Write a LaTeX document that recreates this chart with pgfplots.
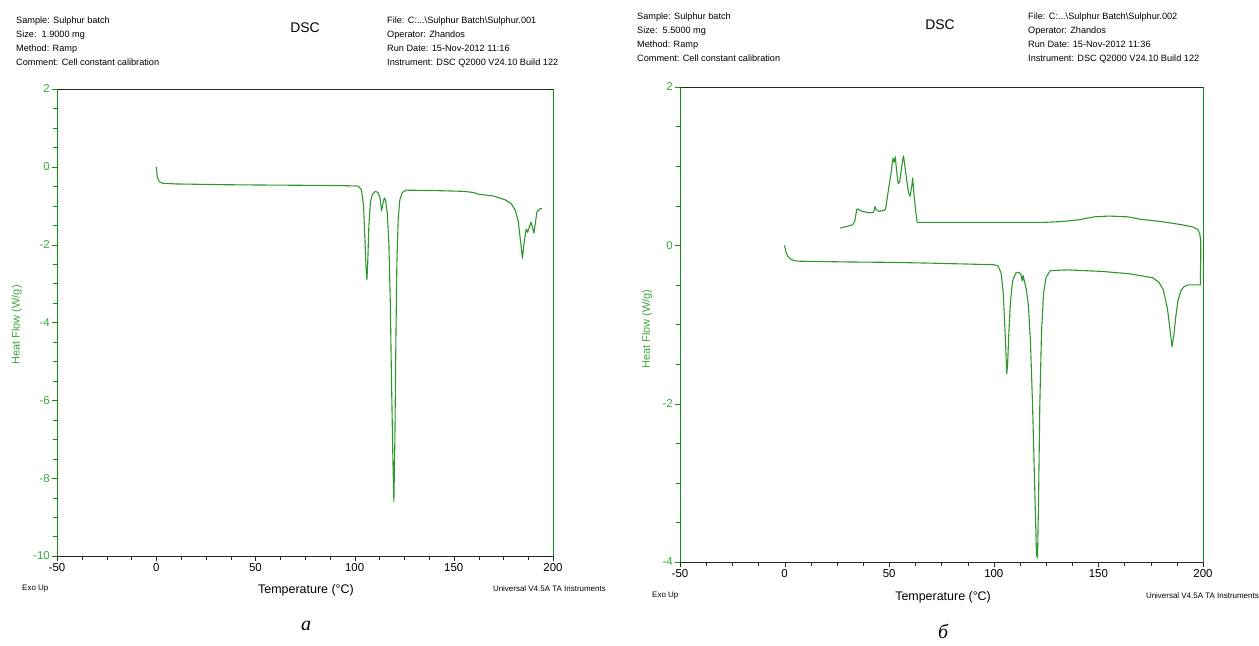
\documentclass[border=0pt]{standalone}
\usepackage{pgfplots}
\pgfplotsset{compat=1.18}
\usepackage{fontspec}
\setmainfont{Liberation Sans}
\newfontfamily\seriffont{Liberation Serif}
\definecolor{axgreen}{RGB}{20,140,20}
\definecolor{curvegreen}{RGB}{45,150,45}
\definecolor{lblgreen}{RGB}{60,165,60}

\pgfplotsset{dscstyle/.style={
  scale only axis, separate axis lines,
  x axis line style={black!85},
  y axis line style={axgreen},
  xmin=-50, xmax=200, xtick={-50,0,50,100,150,200}, minor x tick num=3,
  minor y tick num=3, tick align=outside, xtick pos=bottom, ytick pos=left,
  major tick length=5bp, minor tick length=4bp,
  x tick style={black!85}, y tick style={axgreen},
  xticklabel style={font=\fontsize{11.5}{13}\selectfont, text=black, inner sep=2pt},
  yticklabel style={font=\fontsize{11.5}{13}\selectfont, text=lblgreen, inner sep=2pt},
  /pgf/number format/assume math mode=true,
  xlabel={Temperature (°C)}, ylabel={Heat Flow (W/g)},
  xlabel style={font=\fontsize{12.5}{14}\selectfont, anchor=center},
  ylabel style={font=\fontsize{11}{13}\selectfont, text=lblgreen, anchor=center},
}, dscline/.style={curvegreen, line width=1.1bp, mark=none, line join=round}}

\begin{document}
\begin{tikzpicture}
\useasboundingbox (0,0) rectangle (1259bp,646bp);

% ---------- panel a ----------
\begin{axis}[dscstyle, anchor=south west, at={(57bp,90bp)},
  width=496bp, height=467bp,
  ymin=-10, ymax=2, ytick={-10,-8,-6,-4,-2,0,2},
  xlabel style={at={(axis description cs:0.502,-0.073)}},
  ylabel style={at={(axis description cs:-0.081,0.495)}}]
\addplot[dscline] coordinates {
(0,0) (0.5,-0.25) (1.5,-0.38) (3,-0.42) (10,-0.44) (35,-0.46) (60,-0.47)
(90,-0.48) (100,-0.49) (102,-0.5) (103.5,-0.6) (104.5,-1.0) (105.3,-2.0)
(105.8,-2.6) (106.2,-2.9) (106.6,-2.5) (107.2,-1.5) (108,-0.9) (109,-0.7)
(110.5,-0.63) (111.8,-0.66) (112.8,-0.8) (113.6,-1.13) (114.3,-0.95)
(115,-0.8) (115.6,-0.85) (116.5,-1.2) (117.3,-2.0) (118,-3.5) (118.6,-5.5)
(119.3,-7.5) (119.8,-8.6) (120.3,-7.0) (120.8,-4.5) (121.3,-2.5) (122,-1.3)
(122.8,-0.85) (124,-0.66) (126,-0.6) (140,-0.61) (155,-0.63) (160,-0.66)
(162,-0.70) (170,-0.75) (176,-0.85) (179,-0.95) (181,-1.12) (182.5,-1.4)
(183.6,-1.9) (184.6,-2.35) (185.3,-2.0) (186.5,-1.6) (187.2,-1.68)
(188.9,-1.42) (190.4,-1.7) (191.9,-1.16) (193.4,-1.08) (194.5,-1.07)
};
\end{axis}

% ---------- panel b ----------
\begin{axis}[dscstyle, anchor=south west, at={(680bp,84bp)},
  width=523bp, height=475bp,
  ymin=-4, ymax=2, ytick={-4,-2,0,2},
  xlabel style={at={(axis description cs:0.503,-0.074)}},
  ylabel style={at={(axis description cs:-0.063,0.49)}}]
\addplot[dscline] coordinates {
(0,0) (0.6,-0.08) (1.5,-0.14) (3,-0.18) (6,-0.2) (30,-0.21) (50,-0.215)
(70,-0.225) (100,-0.245) (102,-0.26) (103.5,-0.35) (104.5,-0.6) (105.4,-1.1)
(106.2,-1.62) (106.6,-1.5) (107.2,-1.1) (108,-0.7) (109,-0.45) (110.5,-0.35)
(112,-0.34) (113,-0.37) (113.6,-0.45) (114,-0.38) (114.6,-0.45) (115.5,-0.55)
(116.5,-0.75) (117.5,-1.2) (118.5,-2.0) (119.5,-3.0) (120.4,-3.9)
(120.9,-3.95) (121.4,-3.2) (122,-2.0) (122.8,-1.1) (123.8,-0.6) (125,-0.4)
(127,-0.32) (135,-0.31) (152,-0.33) (165,-0.36) (176,-0.41) (179,-0.47)
(181,-0.56) (183,-0.8) (184.4,-1.1) (185.2,-1.28) (186,-1.15) (187,-0.9)
(188,-0.7) (189.5,-0.57) (191,-0.52) (193,-0.5) (198.7,-0.5)
(198.9,-0.2) (198.9,0.05) (198.5,0.14) (197.5,0.2) (195.3,0.23) (190,0.26)
(180,0.30) (170,0.33) (164,0.36) (155,0.37) (148,0.36) (140,0.32)
(132,0.30) (124,0.29) (100,0.29) (80,0.29) (63.4,0.29) (62.8,0.4)
(62,0.6) (61.2,0.85) (60.8,0.75) (60,0.62) (59.3,0.66) (58.5,0.8)
(57.5,1.0) (56.8,1.13) (56,1.0) (55,0.8) (54.3,0.78) (53.5,0.95)
(52.9,1.12) (52.4,1.05) (51.8,1.1) (50.8,0.9) (49.4,0.66) (48.3,0.46)
(47.5,0.44) (45,0.43) (43.8,0.45) (43.2,0.49) (42.6,0.42) (40.5,0.41)
(37,0.43) (35,0.46) (34.5,0.45) (34,0.38) (33.5,0.3) (32.5,0.26)
(30,0.24) (27,0.22) (26.5,0.22)
};
\end{axis}

% ---------- headers panel a ----------
\begin{scope}[every node/.style={inner sep=0pt, anchor=base west, font=\fontsize{9.2}{11}\selectfont}]
\node at (16bp,646bp-24bp) {Sample: Sulphur batch};
\node at (16bp,646bp-38bp) {Size:\ \ 1.9000 mg};
\node at (16bp,646bp-52bp) {Method: Ramp};
\node at (16bp,646bp-66bp) {Comment: Cell constant calibration};
\node at (387bp,646bp-24bp) {File: C:...\textbackslash Sulphur Batch\textbackslash Sulphur.001};
\node at (387bp,646bp-38bp) {Operator: Zhandos};
\node at (387bp,646bp-52bp) {Run Date: 15-Nov-2012 11:16};
\node at (387bp,646bp-66bp) {Instrument: DSC Q2000 V24.10 Build 122};
% panel b
\node at (637bp,646bp-20bp) {Sample: Sulphur batch};
\node at (637bp,646bp-34bp) {Size:\ \ 5.5000 mg};
\node at (637bp,646bp-48bp) {Method: Ramp};
\node at (637bp,646bp-62bp) {Comment: Cell constant calibration};
\node at (1028bp,646bp-20bp) {File: C:...\textbackslash Sulphur Batch\textbackslash Sulphur.002};
\node at (1028bp,646bp-34bp) {Operator: Zhandos};
\node at (1028bp,646bp-48bp) {Run Date: 15-Nov-2012 11:36};
\node at (1028bp,646bp-62bp) {Instrument: DSC Q2000 V24.10 Build 122};
\end{scope}
\node[font=\fontsize{14}{16}\selectfont] at (305bp,646bp-28bp) {DSC};
\node[font=\fontsize{14}{16}\selectfont] at (940bp,646bp-25bp) {DSC};

% ---------- footers ----------
\node[font=\fontsize{8}{10}\selectfont, anchor=west, inner sep=0pt] at (22bp,646bp-589bp) {Exo Up};
\node[font=\fontsize{8}{10}\selectfont, anchor=east, inner sep=0pt] at (606bp,646bp-589bp) {Universal V4.5A TA Instruments};
\node[font=\fontsize{8}{10}\selectfont, anchor=west, inner sep=0pt] at (652bp,646bp-596bp) {Exo Up};
\node[font=\fontsize{8}{10}\selectfont, anchor=east, inner sep=0pt] at (1259bp,646bp-596bp) {Universal V4.5A TA Instruments};
\node[font=\seriffont\itshape\fontsize{20}{22}\selectfont] at (306bp,646bp-626bp) {а};
\node[font=\seriffont\itshape\fontsize{20}{22}\selectfont] at (943bp,646bp-631bp) {б};
\end{tikzpicture}
\end{document}
